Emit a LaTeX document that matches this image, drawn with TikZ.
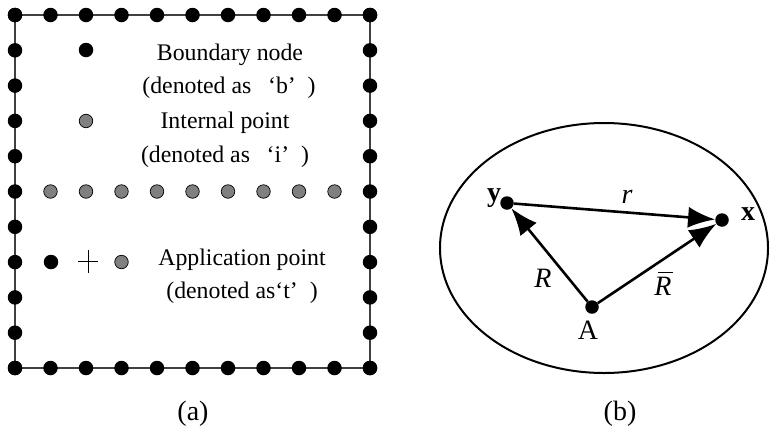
\documentclass[tikz,border=0pt]{standalone}
\usepackage{fontspec}
\setmainfont{Liberation Serif}
\usetikzlibrary{arrows.meta}

\tikzset{
  bdot/.style={circle,fill=black,inner sep=0pt,minimum size=14.5pt},
  idot/.style={circle,draw=black,line width=0.7pt,fill=black!50,inner sep=0pt,minimum size=13.5pt},
  pdot/.style={circle,fill=black,inner sep=0pt,minimum size=13.5pt},
  vec/.style={line width=2.6pt,-{Latex[length=27pt,width=21pt]}},
  txt/.style={font=\fontsize{23.8}{28}\selectfont,inner sep=0pt},
  lab/.style={font=\fontsize{28}{32}\selectfont,inner sep=0pt}
}

\begin{document}
\begin{tikzpicture}[x=1pt,y=-1pt]
    \useasboundingbox (0,0) rectangle (773,445);

    % (a) boundary of the square
    \draw[black!75,line width=1.4pt] (15,15) rectangle (370,368);
    \foreach \i in {0,...,10} {
        \node[bdot] (top\i) at ({15+35.5*\i},15) {};
        \node[bdot] (bot\i) at ({15+35.5*\i},368) {};
        \node[bdot] (lft\i) at (15,{15+35.3*\i}) {};
        \node[bdot] (rgt\i) at (370,{15+35.3*\i}) {};
    }

    % internal row
    \foreach \i in {1,...,9}
        \node[idot] (row\i) at ({15+35.5*\i},191.5) {};

    % legend
    \node[bdot] (bkey) at (86,50) {};
    \node[txt] (btxt) at (230,55) {Boundary node};
    \node[txt] (bsub) at (229,88) {(denoted as\hspace{0.7em}‘b’\hspace{0.5em})};

    \node[idot] (ikey) at (86,121) {};
    \node[txt] (itxt) at (225,123) {Internal point};
    \node[txt] (isub) at (225,157) {(denoted as\hspace{0.7em}‘i’\hspace{0.5em})};

    \node[bdot] (tb) at (51,262) {};
    \coordinate (tplus) at (88,261);
    \draw[line width=1pt] ([xshift=-10pt]tplus) -- ([xshift=10pt]tplus)
                          ([yshift=-11.5pt]tplus) -- ([yshift=11.5pt]tplus);
    \node[idot] (ti) at (121.5,262) {};
    \node[txt] (ttxt) at (242,260) {Application point};
    \node[txt] (tsub) at (242,293) {(denoted as‘t’\hspace{0.5em})};

    % (b) domain
    \draw[line width=2pt] (604,248) ellipse [x radius=164,y radius=125];

    \node[pdot] (y) at (507,203) {};
    \node[pdot] (x) at (722,220) {};
    \node[pdot] (A) at (592,307) {};

    \draw[vec] (y) -- (x);
    \draw[vec] (A) -- (y);
    \draw[vec] (A) -- (x);

    \node[lab] (ylab) at (494,198) {\textbf{y}};
    \node[lab] (xlab) at (748,214) {\textbf{x}};
    \node[lab] (Alab) at (588,330) {A};
    \node[lab] (rlab) at (627,197) {\textit{r}};
    \node[lab] (Rlab) at (543,278) {\textit{R}};
    \node[lab] (Rbar) at (663,286) {\textit{R}};
    \draw[line width=1.2pt] ([xshift=4pt,yshift=4pt]Rbar.north west) -- ([xshift=1pt,yshift=4pt]Rbar.north east);

    % captions
    \node[lab] (capa) at (193,414) {(a)};
    \node[lab] (capb) at (620,414) {(b)};
\end{tikzpicture}
\end{document}
